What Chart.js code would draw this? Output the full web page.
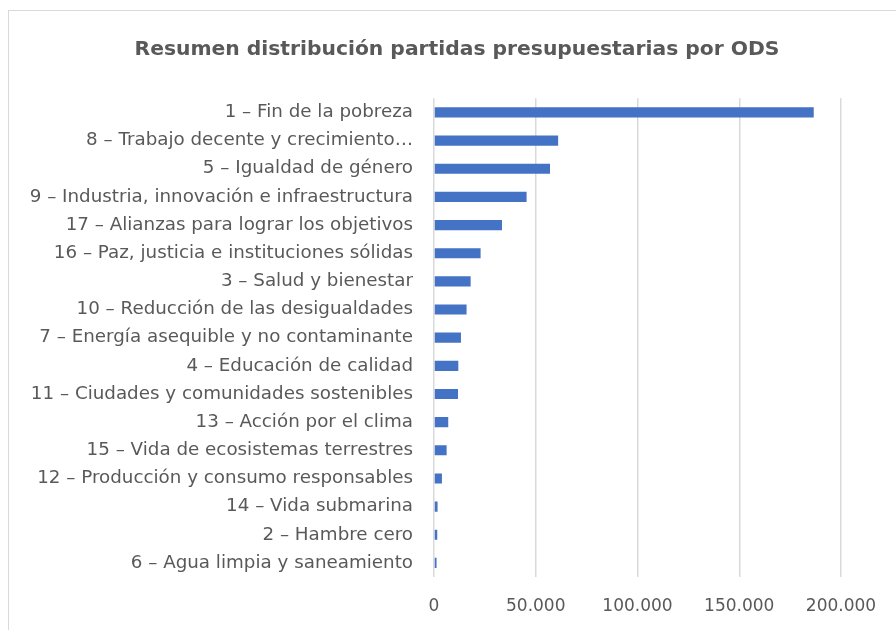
<!DOCTYPE html>
<html>
<head>
<meta charset="utf-8">
<script src="https://cdn.jsdelivr.net/npm/chart.js@4"></script>
<style>
  html, body { margin: 0; padding: 0; background: #fff; overflow: hidden; }
  #marco { position: absolute; left: 8px; top: 10px; width: 1000px; height: 700px; border: 1.5px solid #d9d9d9; }
  #lienzo { position: absolute; left: 0; top: 0; }
</style>
</head>
<body>
<div id="marco"></div>
<canvas id="lienzo" width="896" height="630"></canvas>
<script>
const categorias = [
    '1 – Fin de la pobreza',
    '8 – Trabajo decente y crecimiento…',
    '5 – Igualdad de género',
    '9 – Industria, innovación e infraestructura',
    '17 – Alianzas para lograr los objetivos',
    '16 – Paz, justicia e instituciones sólidas',
    '3 – Salud y bienestar',
    '10 – Reducción de las desigualdades',
    '7 – Energía asequible y no contaminante',
    '4 – Educación de calidad',
    '11 – Ciudades y comunidades sostenibles',
    '13 – Acción por el clima',
    '15 – Vida de ecosistemas terrestres',
    '12 – Producción y consumo responsables',
    '14 – Vida submarina',
    '2 – Hambre cero',
    '6 – Agua limpia y saneamiento'
];
const importes = [186600, 61000, 57000, 45500, 33400, 22900, 18000, 16000, 13250, 11950, 11800, 7000, 6200, 3900, 1750, 1600, 1250];
const ticksEje = [0, 50000, 100000, 150000, 200000];

const gris = '#595959';
const fuente = "'DejaVu Sans', 'Open Sans', sans-serif";

function formatoMiles(v) {
    return String(v).replace(/\B(?=(\d{3})+(?!\d))/g, '.');
}

// el título va centrado sobre el marco, no sobre el área del gráfico
const centrarTitulo = {
    id: 'centrarTitulo',
    afterLayout(chart) {
        chart.titleBlock.left = 18;
        chart.titleBlock.right = 896;
    }
};

const ctx = document.getElementById('lienzo').getContext('2d');
new Chart(ctx, {
    type: 'bar',
    data: {
        labels: categorias,
        datasets: [{
            label: 'Importe',
            data: importes,
            backgroundColor: '#4472C4',
            barPercentage: 0.36,
            categoryPercentage: 1
        }]
    },
    options: {
        indexAxis: 'y',
        responsive: false,
        animation: false,
        layout: { padding: { left: 0, right: 55, top: 0, bottom: 0 } },
        plugins: {
            legend: { display: false },
            tooltip: { enabled: false },
            title: {
                display: true,
                text: 'Resumen distribución partidas presupuestarias por ODS',
                color: gris,
                font: { family: fuente, size: 20.3, weight: 'bold' },
                padding: { top: 38, bottom: 36 }
            }
        },
        scales: {
            x: {
                min: 0,
                max: 200000,
                afterBuildTicks: scale => { scale.ticks = ticksEje.map(v => ({ value: v })); },
                afterFit: scale => { scale.height = 53; },
                grid: { color: '#d9d9d9', lineWidth: 1.5, drawTicks: false },
                border: { display: false },
                ticks: {
                    color: gris,
                    padding: 19,
                    font: { family: fuente, size: 17 },
                    callback: v => formatoMiles(v)
                }
            },
            y: {
                afterFit: scale => { scale.width = 434; },
                grid: { display: false, drawTicks: false },
                border: { display: false },
                ticks: {
                    color: gris,
                    padding: 21,
                    autoSkip: false,
                    font: { family: fuente, size: 18.3 }
                }
            }
        }
    },
    plugins: [centrarTitulo]
});
</script>
</body>
</html>
